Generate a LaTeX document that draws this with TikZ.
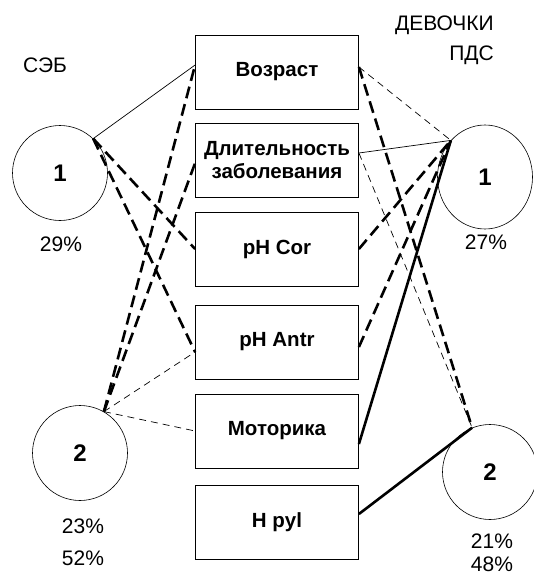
\documentclass[tikz,border=0pt]{standalone}
\usepackage{fontspec}
\setmainfont{Liberation Sans}
\usetikzlibrary{shapes.geometric}

\begin{document}
\begin{tikzpicture}[x=1pt, y=-1pt,
    factor/.style={draw, line width=0.8pt, minimum width=163pt, minimum height=74pt, inner sep=0pt, align=center, font=\bfseries\fontsize{20.5}{23}\selectfont},
    cluster/.style={draw, ellipse, line width=0.6pt, minimum width=95pt, minimum height=95pt, inner sep=0pt, font=\bfseries\fontsize{24}{28}\selectfont},
    share/.style={inner sep=1pt, font=\fontsize{21}{24}\selectfont},
    weak/.style={line width=0.7pt},
    weakdash/.style={line width=0.7pt, dash pattern=on 7pt off 5pt},
    strongdash/.style={line width=2.6pt, dash pattern=on 12pt off 6pt},
    strong/.style={line width=2.6pt}]

    \useasboundingbox (0,0) rectangle (534,578);

    % Factors in the middle column
    \foreach \i/\y/\txt in {1/72/Возраст, 2/160/{Длительность\\заболевания}, 3/249/pH Cor, 4/342/pH Antr, 5/431/Моторика, 6/522/H pyl} {
        \node[factor] (b\i) at (277,\y) {\txt};
    }

    % Clusters on both sides
    \node[cluster] (seb1) at (60,173) {1};
    \node[cluster] (seb2) at (80,453) {2};
    \node[cluster, minimum height=104pt] (pds1) at (485,177) {1};
    \node[cluster] (pds2) at (490,472) {2};

    % Headers and shares
    \node[share] (seb) at (45,65) {СЭБ};
    \node[share, anchor=east] (girls) at (495,25) {ДЕВОЧКИ};
    \node[share, anchor=east] (pds) at (495,55) {ПДС};
    \node[share] (s29) at (61,244) {29\%};
    \node[share] (s27) at (486,242) {27\%};
    \node[share] (s23) at (83,526) {23\%};
    \node[share] (s52) at (83,558) {52\%};
    \node[share] (s21) at (492,541) {21\%};
    \node[share] (s48) at (492,564) {48\%};

    % Links of the left clusters
    \draw[weak] (seb1.46) -- ([yshift=7pt]b1.west);
    \draw[strongdash] (seb1.46) -- (b3.west);
    \draw[strongdash] (seb1.46) -- ([yshift=-10pt]b4.west);
    \draw[strongdash] (seb2.60) -- ([yshift=7pt]b1.west);
    \draw[strongdash] (seb2.60) -- ([yshift=-3pt]b2.west);
    \draw[weakdash] (seb2.60) -- ([yshift=-10pt]b4.west);
    \draw[weakdash] (seb2.60) -- (b5.west);

    % Links of the right clusters
    \draw[weakdash] ([yshift=5pt]b1.east) -- (pds1.133);
    \draw[strongdash] ([yshift=5pt]b1.east) -- (pds2.112);
    \draw[weak] ([yshift=7pt]b2.east) -- (pds1.133);
    \draw[weakdash] ([yshift=7pt]b2.east) -- (pds2.112);
    \draw[strongdash] (b3.east) -- (pds1.133);
    \draw[strongdash] ([yshift=-5pt]b4.east) -- (pds1.133);
    \draw[strong] ([yshift=-13pt]b5.east) -- (pds1.133);
    \draw[strong] ([yshift=8pt]b6.east) -- (pds2.112);

\end{tikzpicture}
\end{document}
